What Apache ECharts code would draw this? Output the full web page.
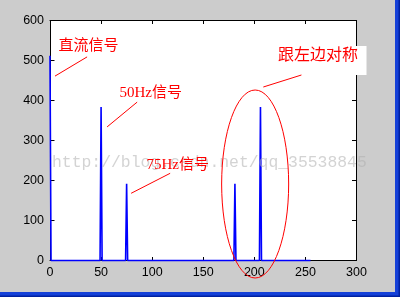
<!DOCTYPE html>
<html>
<head>
<meta charset="utf-8">
<script src="https://cdn.jsdelivr.net/npm/echarts@6/dist/echarts.min.js"></script>
<style>
html,body{margin:0;padding:0;background:#cccccc;}
#c{width:400px;height:297px;}
</style>
</head>
<body>
<div id="c"></div>
<script>
// Spectrum magnitude (|FFT|), frequency index vs magnitude
const freqs = [0, 1, 49, 50, 51, 74, 75, 76, 180, 181, 182, 205, 206, 207, 255];
const mags  = [512, 0, 0, 384, 0, 0, 192, 0, 0, 192, 0, 0, 384, 0, 0];
const xTicks = [0, 50, 100, 150, 200, 250, 300];
const yTicks = [0, 100, 200, 300, 400, 500, 600];
const labels = ['直流信号', '50Hz信号', '75Hz信号', '跟左边对称'];
const watermark = 'http://blog.csdn.net/qq_35538845';

const chart = echarts.init(document.getElementById('c'), null, {renderer: 'canvas'});
const data = freqs.map((f, i) => [f, mags[i]]);
const axisFont = {fontFamily: 'Liberation Sans, Arial, sans-serif', fontSize: 12.5, color: '#000'};

chart.setOption({
  backgroundColor: '#cccccc',
  animation: false,
  grid: {left: 50, top: 20.5, right: 43.5, bottom: 36.5, show: true, backgroundColor: '#ffffff', borderWidth: 0},
  xAxis: [{
    type: 'value', min: xTicks[0], max: xTicks[xTicks.length - 1], interval: 50, position: 'bottom',
    axisLine: {show: true, lineStyle: {color: '#000', width: 1}},
    axisTick: {show: true, inside: true, length: 3.5, lineStyle: {color: '#000'}},
    axisLabel: Object.assign({margin: 6}, axisFont),
    splitLine: {show: false}
  }, {
    type: 'value', min: xTicks[0], max: xTicks[xTicks.length - 1], interval: 50, position: 'top',
    axisLine: {show: true, onZero: false, lineStyle: {color: '#000', width: 1}},
    axisTick: {show: true, inside: true, length: 3.5, lineStyle: {color: '#000'}},
    axisLabel: {show: false}, splitLine: {show: false}
  }],
  yAxis: [{
    type: 'value', min: yTicks[0], max: yTicks[yTicks.length - 1], interval: 100, position: 'left',
    axisLine: {show: true, lineStyle: {color: '#000', width: 1}},
    axisTick: {show: true, inside: true, length: 4.5, lineStyle: {color: '#000'}},
    axisLabel: Object.assign({margin: 6}, axisFont),
    splitLine: {show: false}
  }, {
    type: 'value', min: yTicks[0], max: yTicks[yTicks.length - 1], interval: 100, position: 'right',
    axisLine: {show: true, onZero: false, lineStyle: {color: '#000', width: 1}},
    axisTick: {show: true, inside: true, length: 4.5, lineStyle: {color: '#000'}},
    axisLabel: {show: false}, splitLine: {show: false}
  }],
  series: [{
    type: 'line', xAxisIndex: 0, yAxisIndex: 0, data: data, clip: false,
    symbol: 'none', lineStyle: {color: '#0000ff', width: 1.6}, z: 3
  }]
});

function p(x, y) { return chart.convertToPixel({gridIndex: 0}, [x, y]); }
const red = '#ff0000';
function seg(a, b) {
  const A = p(a[0], a[1]), B = p(b[0], b[1]);
  return {type: 'line', z: 20, shape: {x1: A[0], y1: A[1], x2: B[0], y2: B[1]}, style: {stroke: red, lineWidth: 1}};
}
function txt(s, at, size, fam) {
  const P = p(at[0], at[1]);
  return {type: 'text', z: 21, x: P[0], y: P[1], style: {text: s, fill: red, font: size + 'px ' + fam, align: 'center', verticalAlign: 'middle'}};
}
const cjk = "'Noto Sans CJK SC', sans-serif";
const serifCjk = "'Liberation Serif', 'Noto Sans CJK SC', serif";
const eC = p(200.8, 191.25), eR = p(233.6, 191.25), eT = p(200.8, 426.25);
const boxA = p(221.6, 536.25), boxB = p(309.8, 463.75);
const wm = p(1.96, 243.75);

chart.setOption({
  graphic: [
    // window frame
    {type: 'rect', z: 1, shape: {x: 395, y: 0, width: 5, height: 297}, style: {fill: '#1440d8'}},
    {type: 'rect', z: 1, shape: {x: 0, y: 292, width: 400, height: 5}, style: {fill: '#1440d8'}},
    {type: 'rect', z: 1, shape: {x: 398.5, y: 0, width: 1.5, height: 297}, style: {fill: '#0020a0'}},
    {type: 'rect', z: 1, shape: {x: 0, y: 295.5, width: 400, height: 1.5}, style: {fill: '#0020a0'}},
    // watermark
    {type: 'text', z: 10, x: wm[0], y: wm[1], style: {text: watermark, fill: 'rgba(175,175,175,0.55)', font: "16.4px 'Liberation Mono', monospace", align: 'left', verticalAlign: 'middle'}},
    // white label box
    {type: 'rect', z: 19, shape: {x: boxA[0], y: boxA[1], width: boxB[0] - boxA[0], height: boxB[1] - boxA[1]}, style: {fill: '#ffffff'}},
    txt(labels[0], [37.7, 541], 15, cjk),
    seg([4.9, 461], [36.3, 509]),
    txt(labels[1], [98.5, 417.5], 15, serifCjk),
    seg([55.9, 334], [85.3, 396]),
    txt(labels[2], [125, 239], 15, serifCjk),
    seg([79.4, 168], [117.6, 218]),
    txt(labels[3], [262.3, 516], 16, cjk),
    seg([208.8, 433.75], [246.1, 463.75]),
    {type: 'ellipse', z: 20, shape: {cx: eC[0], cy: eC[1], rx: eR[0] - eC[0], ry: eC[1] - eT[1]}, style: {stroke: red, fill: 'none', lineWidth: 1}}
  ]
});
</script>
</body>
</html>
